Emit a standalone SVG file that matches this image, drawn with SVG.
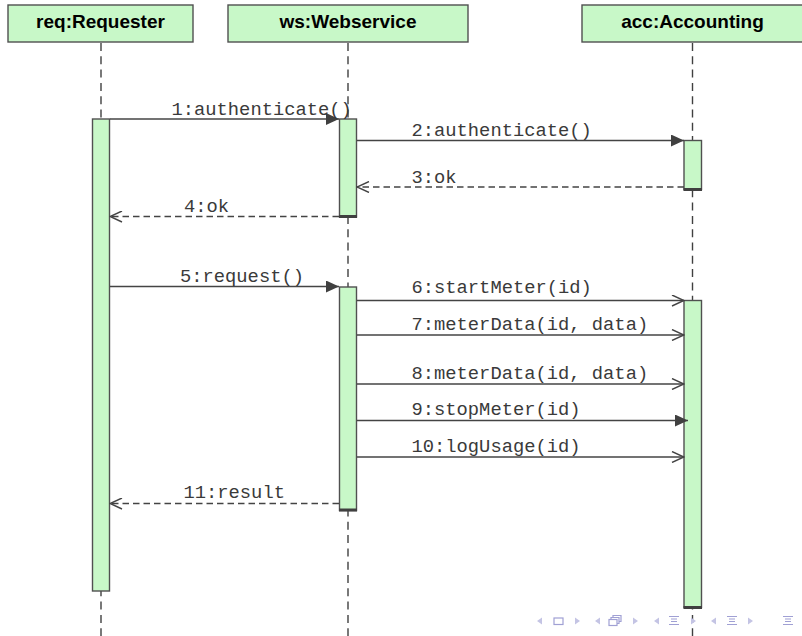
<svg xmlns="http://www.w3.org/2000/svg" width="802" height="636" viewBox="0 0 802 636">
<defs>
<style>
.head{fill:#c8f8c8;stroke:#505050;stroke-width:1.4}
.title{font-family:"Liberation Sans",Arial,sans-serif;font-weight:bold;font-size:19px;fill:#000;text-anchor:middle}
.life{stroke:#404040;stroke-width:1.4;stroke-dasharray:8 5.3;fill:none}
.act{fill:#c8f8c8;stroke:#505050;stroke-width:1.4}
.actend{stroke:#404040;stroke-width:3}
.msg{stroke:#444;stroke-width:1.4;fill:none}
.ret{stroke:#444;stroke-width:1.4;fill:none;stroke-dasharray:6.5 4}
.lbl{font-family:"Liberation Mono","Courier New",monospace;font-size:18.8px;fill:#3a3a3a}
.nav{fill:#c4c4e4;stroke:none}
.navs{fill:none;stroke:#a0a0d4;stroke-width:1.2}
</style>
<marker id="filled" markerWidth="14" markerHeight="12" refX="13" refY="6" orient="auto" markerUnits="userSpaceOnUse">
<path d="M0,0 L13,6 L0,12 Z" fill="#404040"/>
</marker>
<marker id="open" markerWidth="14" markerHeight="12" refX="13" refY="6" orient="auto" markerUnits="userSpaceOnUse">
<path d="M1,0.5 L13,6 L1,11.5" fill="none" stroke="#444" stroke-width="1.4"/>
</marker>
</defs>
<rect width="802" height="636" fill="#fff"/>

<g id="lifelines">
<line class="life" x1="101" y1="43" x2="101" y2="636"/>
<line class="life" x1="348" y1="43" x2="348" y2="636"/>
<line class="life" x1="692.5" y1="43" x2="692.5" y2="636"/>
</g>

<g id="req">
<rect class="head" x="8" y="5" width="185" height="37"/>
<text class="title" x="100.5" y="28">req:Requester</text>
<rect class="act" x="92.5" y="119" width="17" height="472"/>
</g>

<g id="ws">
<rect class="head" x="228" y="5" width="240" height="37"/>
<text class="title" x="348" y="28">ws:Webservice</text>
<rect class="act" x="339.5" y="119" width="17" height="98"/>
<line class="actend" x1="339" y1="216.5" x2="357" y2="216.5"/>
<rect class="act" x="339.5" y="287" width="17" height="223.5"/>
<line class="actend" x1="339" y1="510" x2="357" y2="510"/>
</g>

<g id="acc">
<rect class="head" x="582" y="5" width="222" height="37"/>
<text class="title" x="692.5" y="28">acc:Accounting</text>
<rect class="act" x="684" y="140.5" width="17.5" height="49"/>
<line class="actend" x1="683.5" y1="189.5" x2="702" y2="189.5"/>
<rect class="act" x="684" y="300.5" width="17.5" height="307"/>
<line class="actend" x1="683.5" y1="607.5" x2="702" y2="607.5"/>
</g>

<g id="connectors">
<line class="msg" x1="110" y1="119" x2="339" y2="119" marker-end="url(#filled)"/>
<text class="lbl" x="171.5" y="115">1:authenticate()</text>

<line class="msg" x1="357" y1="140.5" x2="684" y2="140.5" marker-end="url(#filled)"/>
<text class="lbl" x="411.5" y="136">2:authenticate()</text>

<line class="ret" x1="684" y1="187" x2="357" y2="187" marker-end="url(#open)"/>
<text class="lbl" x="411.5" y="183">3:ok</text>

<line class="ret" x1="339" y1="216.5" x2="110" y2="216.5" marker-end="url(#open)"/>
<text class="lbl" x="184" y="212">4:ok</text>

<line class="msg" x1="110" y1="286.5" x2="339" y2="286.5" marker-end="url(#filled)"/>
<text class="lbl" x="180" y="282">5:request()</text>

<line class="msg" x1="357" y1="300.5" x2="684" y2="300.5" marker-end="url(#open)"/>
<text class="lbl" x="411.5" y="293">6:startMeter(id)</text>

<line class="msg" x1="357" y1="335" x2="684" y2="335" marker-end="url(#open)"/>
<text class="lbl" x="411.5" y="330">7:meterData(id, data)</text>

<line class="msg" x1="357" y1="384" x2="684" y2="384" marker-end="url(#open)"/>
<text class="lbl" x="411.5" y="379">8:meterData(id, data)</text>

<line class="msg" x1="357" y1="420.5" x2="688" y2="420.5" marker-end="url(#filled)"/>
<text class="lbl" x="411.5" y="415">9:stopMeter(id)</text>

<line class="msg" x1="357" y1="457" x2="684" y2="457" marker-end="url(#open)"/>
<text class="lbl" x="411.5" y="452">10:logUsage(id)</text>

<line class="ret" x1="339" y1="503.5" x2="110" y2="503.5" marker-end="url(#open)"/>
<text class="lbl" x="183.5" y="498">11:result</text>
</g>

<g id="navigation">
<path class="nav" d="M537,621 L542,617.5 L542,624.5 Z"/>
<rect class="navs" x="554" y="618" width="9" height="6.5"/>
<path class="nav" d="M580,621 L575,617.5 L575,624.5 Z"/>
<path class="nav" d="M595,621 L600,617.5 L600,624.5 Z"/>
<rect class="navs" x="609" y="619.5" width="8" height="6"/>
<path class="navs" d="M611,619.5 V617.5 H619 V623.5 H617 M613,617.5 V615.5 H621 V621.5 H619"/>
<path class="nav" d="M638,621 L633,617.5 L633,624.5 Z"/>
<path class="nav" d="M654,621 L659,617.5 L659,624.5 Z"/>
<path class="navs" d="M669,616.5 H679 M671,619 H677 M671,621.5 H677 M669,624.5 H679"/>
<path class="nav" d="M696,621 L691,617.5 L691,624.5 Z"/>
<path class="nav" d="M711,621 L716,617.5 L716,624.5 Z"/>
<path class="navs" d="M727,616.5 H737 M729,619 H735 M729,621.5 H735 M727,624.5 H737"/>
<path class="nav" d="M753,621 L748,617.5 L748,624.5 Z"/>
<path class="navs" d="M783,616.5 H793 M785,619 H791 M785,621.5 H791 M783,624.5 H793"/>
</g>
</svg>
